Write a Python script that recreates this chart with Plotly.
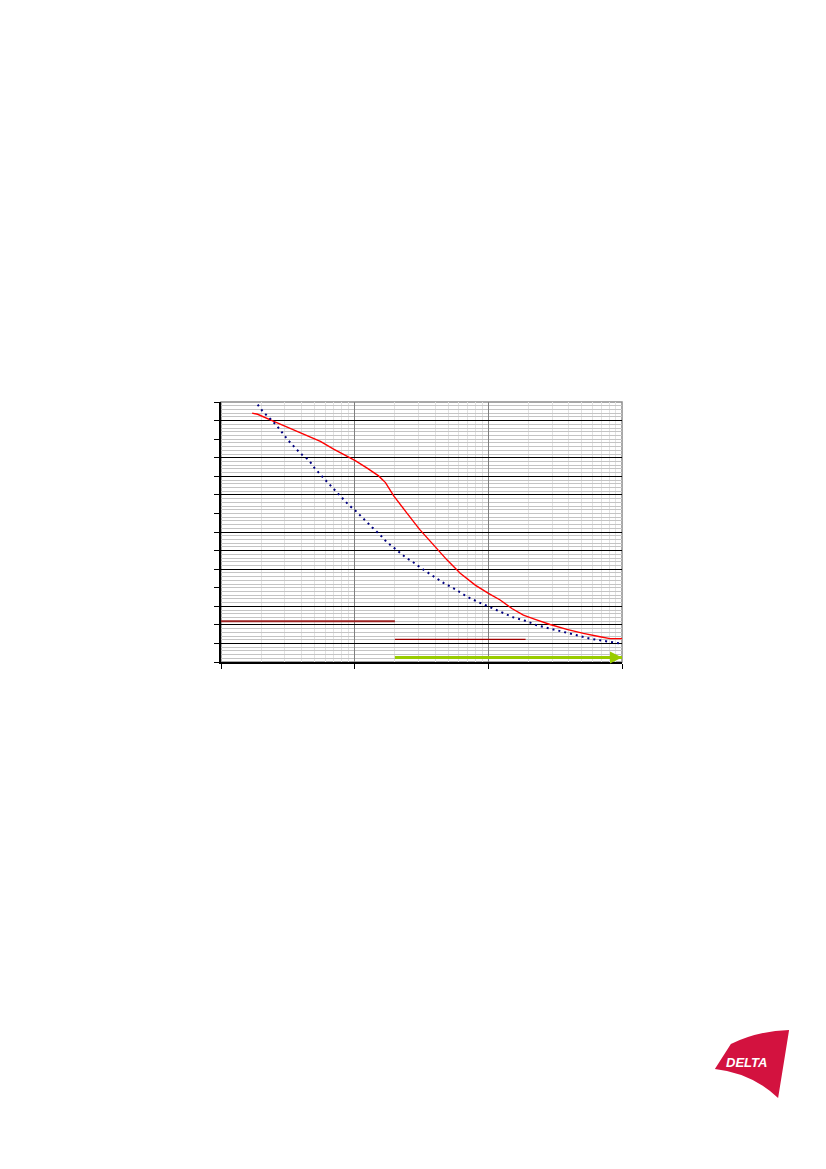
import plotly.graph_objects as go
import math

# ---- data (x: log frequency-like axis, y: level) ----
red_x = [17.1, 18.8, 24.1, 31.2, 41.6, 55.4, 69.6, 87.7, 101, 124, 151, 170, 196, 246, 306,
         401, 490, 616, 798, 1002, 1226, 1500, 1830, 2239, 2898, 3864, 5140, 6850, 8137, 10000]
red_y = [67.0, 66.7, 65.0, 63.2, 61.4, 59.4, 57.3, 55.5, 54.2, 52.2, 50.1, 48.3, 44.7, 40.1, 35.7,
         31.0, 27.5, 23.9, 20.7, 18.5, 16.7, 14.4, 12.6, 11.5, 10.1, 8.8, 7.7, 6.8, 6.3, 6.3]

blue_x = [18.8, 20.3, 22.1, 24.1, 27.4, 29.5, 31.6, 37.1, 40.4, 45.3, 50.2, 58.6, 67.7, 78.1, 90.1,
          101, 116.7, 134.8, 160.2, 174.5, 190.2, 207.3, 223.3, 243.3, 268.4, 322, 389, 462, 565,
          691, 844, 1032, 1262, 1541, 1885, 2306, 2897, 3642, 4587, 5768, 7250, 9663]
blue_y = [69.3, 67.7, 66.3, 65.0, 62.7, 61.2, 59.8, 57.1, 55.8, 54.4, 52.2, 49.5, 47.1, 44.5, 42.3,
          40.8, 38.4, 36.3, 33.7, 32.2, 31.2, 30.2, 29.1, 28.0, 27.1, 25.0, 23.0, 21.3, 19.6,
          17.6, 16.1, 14.7, 13.2, 12.0, 11.1, 9.9, 9.0, 8.1, 7.2, 6.3, 5.7, 5.0]

limit1_x = [10, 200]
limit1_y = [11.0, 11.0]
limit2_x = [200, 1900]
limit2_y = [6.1, 6.1]
arrow_x = [200, 10000]
arrow_y = [1.2, 1.2]

black_grid_y = [5, 10, 15, 25, 30, 35, 45, 50, 55, 65]
x_decades = [10, 100, 1000, 10000]

fig = go.Figure()

# trace on primary y so its grid (black + grey) is rendered
fig.add_trace(go.Scatter(x=limit1_x, y=limit1_y, mode="lines", yaxis="y",
                         line=dict(color="#9b2222", width=2), cliponaxis=False, showlegend=False))
fig.add_trace(go.Scatter(x=limit2_x, y=limit2_y, mode="lines", yaxis="y2",
                         line=dict(color="#a00000", width=1.3), showlegend=False))
fig.add_trace(go.Scatter(x=red_x, y=red_y, mode="lines", yaxis="y2",
                         line=dict(color="#ff0000", width=1.4), showlegend=False))
fig.add_trace(go.Scatter(x=blue_x, y=blue_y, mode="lines", yaxis="y2",
                         line=dict(color="#000080", width=2, dash="2px,4px"), showlegend=False))
fig.add_trace(go.Scatter(x=arrow_x, y=arrow_y, mode="lines", yaxis="y2",
                         line=dict(color="#99cc00", width=3), showlegend=False))

fig.add_annotation(x=math.log10(arrow_x[1]), y=arrow_y[1], ax=math.log10(arrow_x[0]), ay=arrow_y[0],
                   xref="x", yref="y2", axref="x", ayref="y2", text="", showarrow=True,
                   arrowhead=2, arrowsize=0.8, arrowwidth=3, arrowcolor="#99cc00", standoff=0)

# plot border (grey top/right)
fig.add_shape(type="rect", xref="paper", yref="paper", x0=0, y0=0, x1=1, y1=1,
              line=dict(color="#8c8c8c", width=1.5), layer="below")

# DELTA logo (coordinates relative to plot area in paper units)
def px(xv):
    return (xv - 220.5) / 401.5

def py(yv):
    return (661.8 - yv) / 259.5

logo_path = (f"M {px(731)},{py(1043)} Q {px(758)},{py(1030)} {px(789.3)},{py(1029)} "
             f"Q {px(784)},{py(1062)} {px(778.3)},{py(1097)} "
             f"Q {px(752)},{py(1072)} {px(715)},{py(1068)} Z")
fig.add_shape(type="path", xref="paper", yref="paper", path=logo_path,
              fillcolor="#d3123f", line=dict(width=0))
fig.add_annotation(x=px(746.5), y=py(1061.5), xref="paper", yref="paper", text="<b>DELTA</b>",
                   xanchor="center", yanchor="middle",
                   showarrow=False, font=dict(family="Liberation Sans", size=13, color="white",
                                              style="italic"))

fig.update_layout(
    width=826, height=1169,
    margin=dict(l=212.5, r=212, t=394.3, b=515.2),
    paper_bgcolor="white", plot_bgcolor="white",
    showlegend=False,
    xaxis=dict(type="log", range=[1, 4], tickvals=x_decades, showticklabels=False,
               ticks="outside", ticklen=5, tickwidth=1, tickcolor="black",
               showline=True, linecolor="black", linewidth=1.5,
               showgrid=True, gridcolor="#7f7f7f", gridwidth=1,
               minor=dict(dtick="D1", showgrid=True, gridcolor="#e2e2e2", gridwidth=1, ticks=""),
               zeroline=False),
    yaxis=dict(range=[0, 70], tickmode="array", tickvals=black_grid_y, showticklabels=False,
               ticks="", showline=False, showgrid=True, gridcolor="black", gridwidth=1.2,
               minor=dict(tickmode="linear", tick0=0, dtick=1, showgrid=True,
                          gridcolor="#c4c4c4", gridwidth=1, ticks=""),
               zeroline=False),
    yaxis2=dict(range=[0, 70], overlaying="y", side="left", anchor="x", tickmode="linear",
                tick0=0, dtick=5, showticklabels=False, ticks="outside", ticklen=5,
                tickwidth=1, tickcolor="black", showline=True, linecolor="black",
                linewidth=1.5, showgrid=False, zeroline=False),
)

fig.write_html("out.html")
